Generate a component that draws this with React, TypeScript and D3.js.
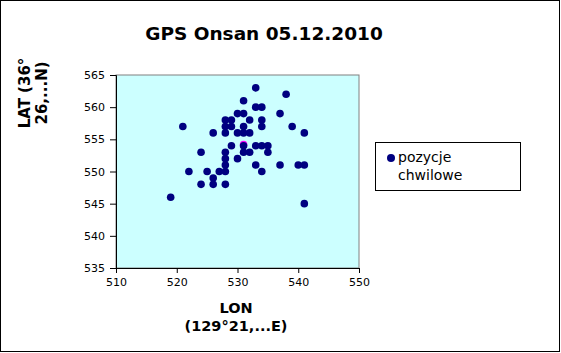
import React, { useEffect, useRef } from 'react';
import * as d3 from 'd3';

// positions: LON (x) and LAT (y) per point
const lonValues = [
  533, 538, 531, 533, 534, 530, 531, 537,
  528, 529, 532, 534,
  521, 528, 529, 531, 534, 539,
  526, 528, 530, 531, 532, 541,
  529, 531, 533, 534, 535,
  524, 528, 531, 532, 535,
  528, 530,
  528, 533, 537, 540, 541,
  522, 525, 527, 528, 534,
  526,
  524, 526, 528,
  519, 541,
];
const latValues = [
  563, 562, 561, 560, 560, 559, 559, 559,
  558, 558, 558, 558,
  557, 557, 557, 557, 557, 557,
  556, 556, 556, 556, 556, 556,
  554, 554, 554, 554, 554,
  553, 553, 553, 553, 553,
  552, 552,
  551, 551, 551, 551, 551,
  550, 550, 550, 550, 550,
  549,
  548, 548, 548,
  546, 545,
];
// pink point mostly hidden behind a navy one
const meanPoint = { lon: 531, lat: 554.2 };

const xTicks = [510, 520, 530, 540, 550];
const yTicks = [535, 540, 545, 550, 555, 560, 565];

const W = 561;
const H = 353;

export default function App() {
  const svgRef = useRef<SVGSVGElement>(null);

  useEffect(() => {
    if (!svgRef.current) return;
    const svg = d3.select(svgRef.current);
    svg.selectAll('*').remove();

    const left = 116, right = 359, top = 75, bottom = 268;
    const x = d3.scaleLinear().domain([510, 550]).range([left, right]);
    const y = d3.scaleLinear().domain([535, 565]).range([bottom, top]);
    const font = 'DejaVu Sans, sans-serif';

    svg.append('rect')
      .attr('x', 0.5).attr('y', 0.5)
      .attr('width', W - 2).attr('height', H - 2)
      .attr('fill', '#fff').attr('stroke', '#000');

    svg.append('text')
      .attr('x', 264).attr('y', 40)
      .attr('text-anchor', 'middle')
      .attr('font-family', font).attr('font-weight', 'bold').attr('font-size', 18.5)
      .text('GPS Onsan 05.12.2010');

    // plot area
    svg.append('rect')
      .attr('x', left).attr('y', top)
      .attr('width', right - left).attr('height', bottom - top)
      .attr('fill', '#ccffff').attr('stroke', '#808080');

    const xAxis = svg.append('g')
      .attr('transform', `translate(0,${bottom})`)
      .call(d3.axisBottom(x).tickValues(xTicks).tickSize(5).tickPadding(5));
    const yAxis = svg.append('g')
      .attr('transform', `translate(${left},0)`)
      .call(d3.axisLeft(y).tickValues(yTicks).tickSize(6).tickPadding(5));
    [xAxis, yAxis].forEach((g) => {
      g.selectAll('path').attr('stroke', '#000');
      g.selectAll('line').attr('stroke', '#000');
      g.selectAll('text').attr('font-family', font).attr('font-size', 11).attr('fill', '#000');
    });

    // axis titles
    const xt = svg.append('text')
      .attr('text-anchor', 'middle')
      .attr('font-family', font).attr('font-weight', 'bold').attr('font-size', 14.5);
    xt.append('tspan').attr('x', 236).attr('y', 313).text('LON');
    xt.append('tspan').attr('x', 236).attr('y', 331).text('(129°21,...E)');

    const yt = svg.append('text')
      .attr('transform', 'translate(0,93) rotate(-90)')
      .attr('text-anchor', 'middle')
      .attr('font-family', font).attr('font-weight', 'bold').attr('font-size', 15);
    yt.append('tspan').attr('x', 0).attr('y', 30).text('LAT (36°');
    yt.append('tspan').attr('x', 0).attr('y', 47).text('26,...N)');

    // points
    svg.append('circle')
      .attr('cx', x(meanPoint.lon)).attr('cy', y(meanPoint.lat))
      .attr('r', 3.8).attr('fill', '#ff00ff');

    svg.append('g')
      .selectAll('circle')
      .data(lonValues.map((lon, i) => ({ lon, lat: latValues[i] })))
      .enter()
      .append('circle')
      .attr('cx', (d) => x(d.lon))
      .attr('cy', (d) => y(d.lat))
      .attr('r', 3.8)
      .attr('fill', '#000080');

    // legend
    svg.append('rect')
      .attr('x', 375.5).attr('y', 142.5)
      .attr('width', 145).attr('height', 48)
      .attr('fill', '#fff').attr('stroke', '#000');
    svg.append('circle')
      .attr('cx', 391).attr('cy', 158).attr('r', 4).attr('fill', '#000080');
    const lt = svg.append('text')
      .attr('font-family', font).attr('font-size', 14).attr('fill', '#000');
    lt.append('tspan').attr('x', 398).attr('y', 162).text('pozycje');
    lt.append('tspan').attr('x', 398).attr('y', 180).text('chwilowe');
  }, []);

  return (
    <svg
      ref={svgRef}
      width={W}
      height={H}
      style={{ position: 'absolute', left: 0, top: 0, display: 'block' }}
    />
  );
}
